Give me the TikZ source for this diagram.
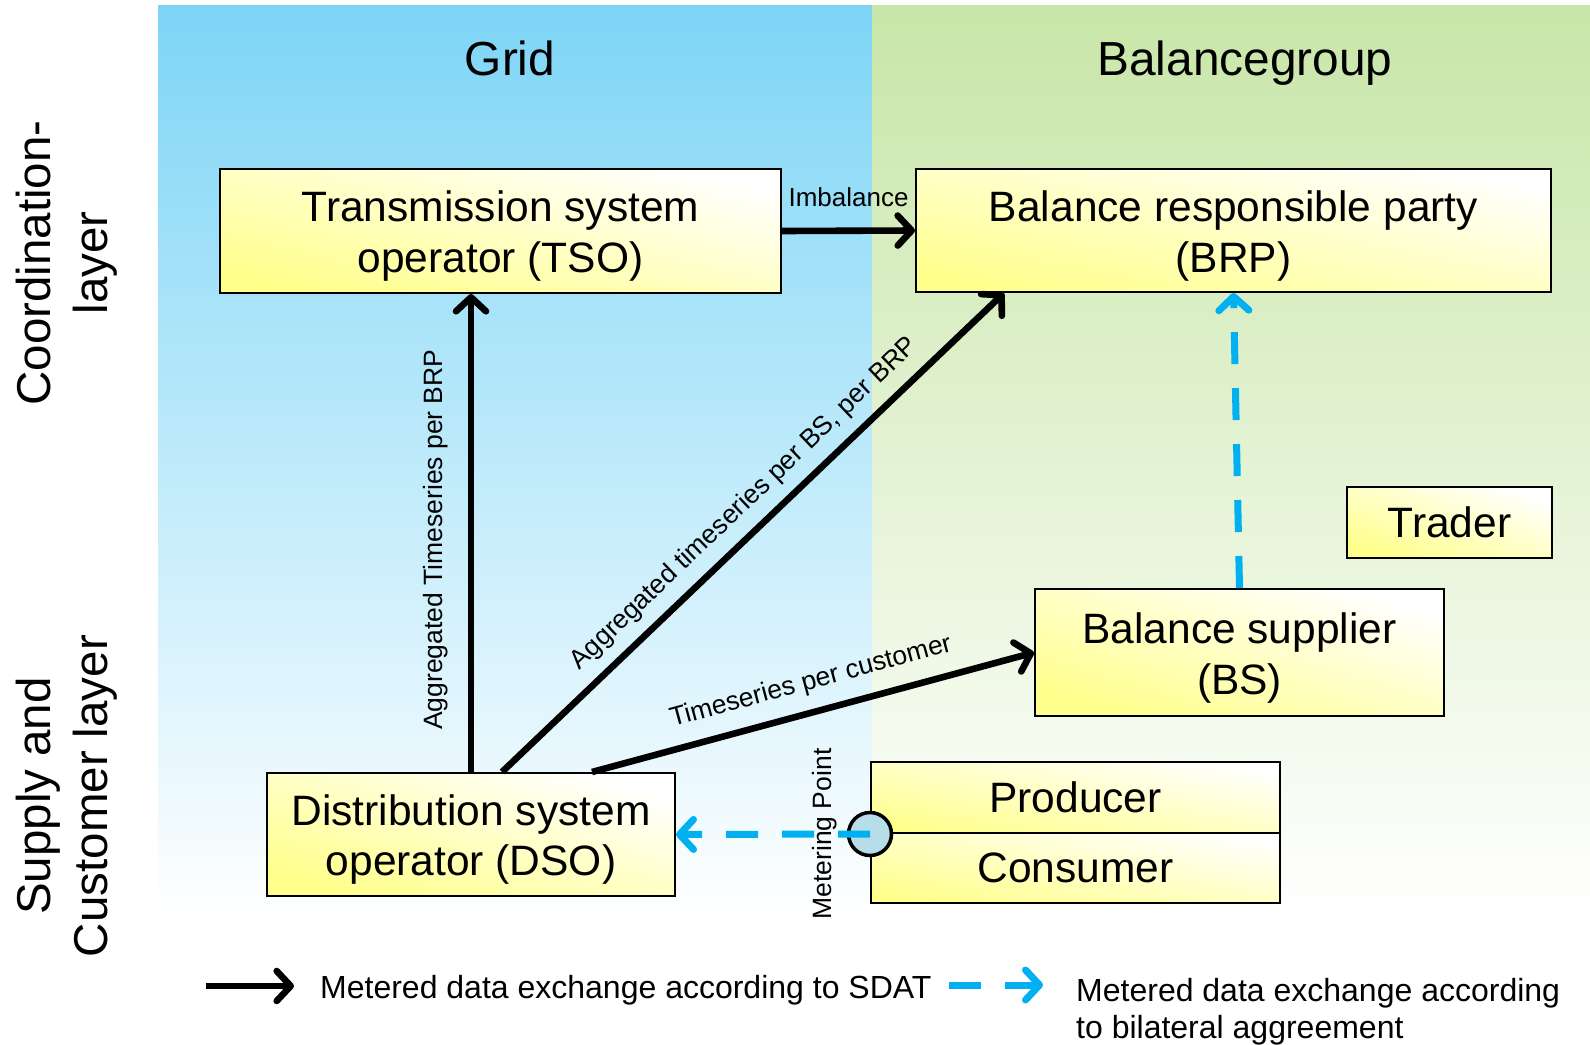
\documentclass[tikz,border=0pt]{standalone}
\usepackage{fontspec}
\setmainfont{Liberation Sans}
\usetikzlibrary{arrows.meta}
\definecolor{gridblue}{RGB}{125,213,246}
\definecolor{bggreen}{RGB}{200,230,168}
\definecolor{boxyel}{RGB}{255,255,140}
\definecolor{cyanarr}{RGB}{0,176,240}
\definecolor{mpfill}{RGB}{183,222,232}
\begin{document}
\begin{tikzpicture}[x=1pt,y=-1pt,
  ybox/.style={draw=black, line width=2pt, top color=white, bottom color=boxyel,
    shading angle=-15, align=center, font=\fontsize{42.5}{51}\selectfont, inner sep=0pt},
  sdat/.style={black, line width=6.6pt, -{Straight Barb[length=14pt,width=30pt,round]}},
  bilat/.style={cyanarr, line width=7pt, dash pattern=on 32pt off 24pt,
    -{Straight Barb[length=14pt,width=30pt,round]}},
  lbl/.style={font=\fontsize{26.5}{30}\selectfont, inner sep=2pt, text=black},
  title/.style={font=\fontsize{47.8}{56}\selectfont, anchor=base, inner sep=0pt},
  layer/.style={font=\fontsize{47.5}{57}\selectfont, rotate=90, align=center, inner sep=0pt},
  legend/.style={font=\fontsize{32}{37}\selectfont, anchor=base west, inner sep=0pt}
]
\useasboundingbox (0,0) rectangle (1590,1044);
\fill[white] (0,0) rectangle (1590,1044);
\shade[top color=gridblue, bottom color=white] (158,5) rectangle (872,915);
\shade[top color=bggreen, bottom color=white] (872,5) rectangle (1590,915);

% titles
\node[title] (gridt) at (510,75) {Grid};
\node[title] (bgt) at (1245,75) {Balancegroup};

% layer labels
\node[layer] (coordl) at (67,263) {Coordination-\\layer};
\node[layer] (supplyl) at (67,796) {Supply and\\Customer layer};

% boxes
\node[ybox, shading angle=-13, minimum width=561pt, minimum height=124pt] (tso) at (500.5,231) {};
\node[font=\fontsize{42.5}{51}\selectfont, align=center, inner sep=0pt] (tsot) at ([yshift=-5pt]tso.center) {Transmission system\\operator (TSO)};
\node[ybox, shading angle=-11, minimum width=635pt, minimum height=123pt] (brp) at (1233.5,230.5) {};
\node[font=\fontsize{42.5}{51}\selectfont, align=center, inner sep=0pt] (brpt) at ([yshift=-5pt]brp.center) {Balance responsible party\\(BRP)};
\node[ybox, shading angle=-17, minimum width=408pt, minimum height=123pt] (dso) at (471,834.5) {};
\node[font=\fontsize{42.5}{51}\selectfont, align=center, inner sep=0pt] (dsot) at ([yshift=-5pt]dso.center) {Distribution system\\operator (DSO)};
\node[ybox, shading angle=-17, minimum width=409pt, minimum height=127pt] (bs) at (1239.5,652.5) {};
\node[font=\fontsize{42.5}{51}\selectfont, align=center, inner sep=0pt] (bst) at ([yshift=-5pt]bs.center) {Balance supplier\\(BS)};
\node[ybox, shading angle=-19, minimum width=205pt, minimum height=71pt] (trader) at (1449.5,522.5) {Trader};
\node[ybox, shading angle=-10, minimum width=409pt, minimum height=71pt] (prod) at (1075.5,797.5) {Producer};
\node[ybox, shading angle=-10, minimum width=409pt, minimum height=70pt] (cons) at (1075.5,868) {Consumer};

% metering point
\node[circle, draw=black, line width=3.5pt, fill=mpfill, minimum size=43pt, inner sep=0pt] (mp) at (prod.south west) {};
\node[lbl, rotate=90] (mplbl) at (825,834) {Metering Point};

% connectors
\draw[sdat] (tso.east) -- (brp.west)
  node[midway, above=19pt, lbl, font=\fontsize{26}{30}\selectfont] (imb) {Imbalance};
\draw[sdat] (dso.north) -- (dso.north |- tso.south)
  node[pos=0.486, sloped, above=18pt, lbl] (aggtso) {Aggregated Timeseries per BRP};
\draw[sdat] ([xshift=31pt]dso.north) -- ([xshift=-229.5pt]brp.south)
  node[pos=0.52, sloped, above=9pt, lbl] (aggbrp) {Aggregated timeseries per BS, per BRP};
\draw[sdat] ([xshift=121pt]dso.north) -- (bs.west)
  node[pos=0.513, sloped, above=12pt, lbl] (tspc) {Timeseries per customer};
\draw[bilat] (bs.north) -- (brp.south);
\draw[bilat] (mp.center) -- (dso.east);

% legend
\coordinate (l1s) at (206,986);
\coordinate (l1e) at (294,986);
\draw[sdat] (l1s) -- (l1e);
\node[legend] (lt1) at (320,998) {Metered data exchange according to SDAT};
\coordinate (l2s) at (949,985);
\coordinate (l2e) at (1043,985);
\draw[bilat] (l2s) -- (l2e);
\node[legend] (lt2a) at (1076,1001) {Metered data exchange according};
\node[legend] (lt2b) at (1076,1038) {to bilateral aggreement};
\end{tikzpicture}
\end{document}
